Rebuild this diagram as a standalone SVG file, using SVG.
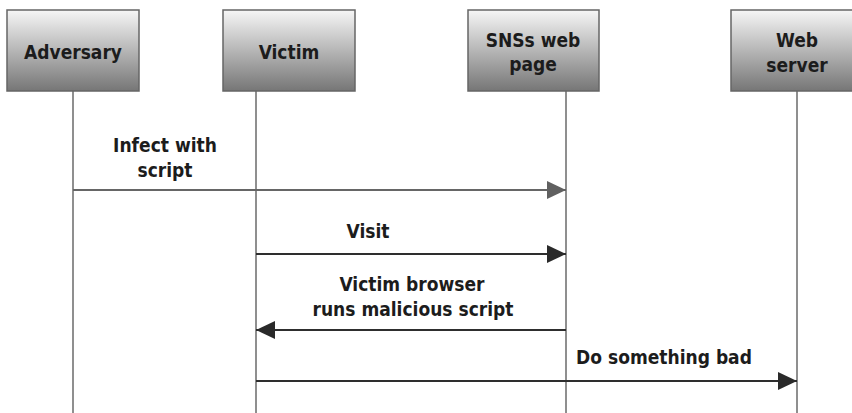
<svg xmlns="http://www.w3.org/2000/svg" width="852" height="413" viewBox="0 0 852 413">
<defs>
<linearGradient id="g" x1="0" y1="0" x2="0" y2="1">
<stop offset="0" stop-color="#f6f6f6"/>
<stop offset="1" stop-color="#767676"/>
</linearGradient>
<marker id="ag" viewBox="0 0 19 18" refX="19" refY="9" markerWidth="19" markerHeight="18" markerUnits="userSpaceOnUse" orient="auto">
<path d="M0,0 L19,9 L0,18 Z" fill="#606060"/>
</marker>
<marker id="ad" viewBox="0 0 19 18" refX="19" refY="9" markerWidth="19" markerHeight="18" markerUnits="userSpaceOnUse" orient="auto">
<path d="M0,0 L19,9 L0,18 Z" fill="#2a2a2a"/>
</marker>
</defs>
<style>
.box{fill:url(#g);stroke:#666;stroke-width:1.5}
.life{stroke:#6a6a6a;stroke-width:1.5;fill:none}
.t{font-family:"DejaVu Sans Condensed","DejaVu Sans",sans-serif;font-weight:bold;font-size:19px;fill:#1c1c1c;text-anchor:middle}
.msg{stroke:#2e2e2e;stroke-width:2;fill:none;marker-end:url(#ad)}
.msg2{stroke:#666;stroke-width:2;fill:none;marker-end:url(#ag)}
</style>
<rect width="852" height="413" fill="#fff"/>
<g id="lifelines">
<line class="life" x1="73" y1="91" x2="73" y2="413"/>
<line class="life" x1="256" y1="91" x2="256" y2="413"/>
<line class="life" x1="566" y1="91" x2="566" y2="413"/>
<line class="life" x1="797" y1="91" x2="797" y2="413"/>
</g>
<g id="adversary">
<rect class="box" x="7" y="10" width="132" height="81"/>
<text class="t" x="73" y="59">Adversary</text>
</g>
<g id="victim">
<rect class="box" x="223" y="10" width="132" height="81"/>
<text class="t" x="289" y="59">Victim</text>
</g>
<g id="sns">
<rect class="box" x="468" y="10" width="131" height="81"/>
<text class="t" x="533" y="47">SNSs web</text>
<text class="t" x="533" y="71">page</text>
</g>
<g id="webserver">
<rect class="box" x="731" y="10" width="132" height="81"/>
<text class="t" x="797" y="47">Web</text>
<text class="t" x="797" y="72">server</text>
</g>
<g id="connectors">
<line class="msg2" x1="73" y1="190" x2="566" y2="190"/>
<text class="t" x="165" y="152">Infect with</text>
<text class="t" x="165" y="177">script</text>
<line class="msg" x1="256" y1="254" x2="566" y2="254"/>
<text class="t" x="368" y="238">Visit</text>
<line class="msg" x1="566" y1="330" x2="256" y2="330"/>
<text class="t" x="412" y="291">Victim browser</text>
<text class="t" x="413" y="316">runs malicious script</text>
<line class="msg" x1="256" y1="381" x2="797" y2="381"/>
<text class="t" x="664" y="364">Do something bad</text>
</g>
</svg>
